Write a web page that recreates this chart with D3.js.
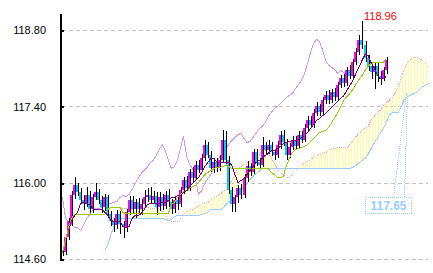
<!DOCTYPE html>
<html><head><meta charset="utf-8">
<script src="https://cdn.jsdelivr.net/npm/d3@7"></script>
<style>body{margin:0;background:#fff}svg{display:block}</style>
</head><body><svg id="c" width="433" height="273"></svg>
<script>
// ---- data ----
const yTicks = [114.60, 116.00, 117.40, 118.80];
const shift = 13;              // forward / backward displacement (in bars)
const highLabel = "118.96";
const calloutLabel = "117.65";
const calloutValue = 117.65;

const open  = [114.77,114.73,115.00,115.25,115.78,115.96,115.83,115.69,115.60,115.78,115.51,115.74,115.82,115.69,115.55,115.73,115.42,115.29,115.22,115.42,115.24,115.18,115.47,115.69,115.51,115.64,115.51,115.60,115.73,115.78,115.69,115.76,115.55,115.73,115.58,115.78,115.64,115.51,115.69,115.60,115.87,116.05,115.90,116.20,116.09,116.33,116.24,116.46,116.69,116.51,116.27,116.38,116.27,116.42,116.79,116.42,115.87,115.60,115.73,115.91,115.78,116.09,116.31,116.20,116.57,116.38,116.33,116.69,116.60,116.69,116.57,116.51,116.69,116.88,116.75,116.51,116.66,116.79,116.68,116.88,116.79,117.01,117.15,117.06,117.28,117.41,117.30,117.52,117.61,117.52,117.66,117.57,117.79,117.92,117.83,118.07,117.96,118.21,118.40,118.62,118.53,118.29,118.14,118.03,118.14,117.96,117.92,118.07];
const high  = [114.80,115.05,115.35,115.85,116.10,116.00,115.90,115.78,115.92,115.85,115.80,116.00,115.88,115.75,115.80,115.78,115.48,115.35,115.50,115.48,115.30,115.52,115.75,115.75,115.70,115.72,115.70,115.87,115.90,115.92,115.85,115.82,115.82,115.80,115.85,115.88,115.70,115.75,115.75,115.92,116.10,116.12,116.25,116.28,116.40,116.42,116.52,116.79,116.75,116.58,116.45,116.45,116.50,116.97,116.95,116.48,115.92,115.78,115.95,115.98,116.15,116.40,116.36,116.62,116.62,116.45,116.83,116.75,116.78,116.75,116.62,116.76,116.95,116.97,116.80,116.72,116.86,116.85,116.95,116.95,117.08,117.22,117.22,117.35,117.48,117.45,117.58,117.68,117.70,117.72,117.74,117.85,117.98,118.00,118.13,118.15,118.27,118.47,118.70,118.96,118.60,118.35,118.22,118.20,118.22,118.05,118.13,118.30];
const low   = [114.66,114.68,114.95,115.20,115.70,115.75,115.62,115.50,115.55,115.45,115.45,115.68,115.60,115.45,115.48,115.35,115.20,115.10,115.15,115.05,114.98,115.10,115.40,115.45,115.35,115.42,115.40,115.55,115.65,115.60,115.60,115.40,115.48,115.50,115.52,115.55,115.42,115.45,115.50,115.55,115.80,115.85,115.85,116.02,116.05,116.18,116.20,116.40,116.45,116.20,116.18,116.20,116.22,116.38,116.35,115.80,115.47,115.46,115.62,115.70,115.72,116.02,116.12,116.15,116.30,116.25,116.28,116.50,116.52,116.48,116.42,116.45,116.62,116.68,116.42,116.45,116.60,116.60,116.62,116.72,116.75,116.95,117.00,117.00,117.22,117.22,117.25,117.45,117.45,117.46,117.50,117.52,117.74,117.76,117.78,117.90,117.92,118.15,118.35,118.45,118.22,118.05,117.90,117.72,117.85,117.80,117.86,118.00];
const close = [114.73,115.00,115.29,115.78,115.96,115.83,115.69,115.60,115.78,115.51,115.74,115.82,115.69,115.55,115.73,115.42,115.29,115.22,115.42,115.24,115.18,115.47,115.69,115.51,115.64,115.51,115.60,115.73,115.78,115.69,115.76,115.55,115.73,115.58,115.78,115.64,115.51,115.69,115.60,115.87,116.05,115.90,116.20,116.09,116.33,116.24,116.46,116.69,116.51,116.27,116.38,116.27,116.42,116.79,116.42,115.87,115.60,115.73,115.91,115.78,116.09,116.31,116.20,116.57,116.38,116.33,116.69,116.60,116.69,116.57,116.51,116.69,116.88,116.75,116.51,116.66,116.79,116.68,116.88,116.79,117.01,117.15,117.06,117.28,117.41,117.30,117.52,117.61,117.52,117.66,117.57,117.79,117.92,117.83,118.07,117.96,118.21,118.40,118.62,118.53,118.29,118.14,118.03,118.14,117.96,117.92,118.07,118.25];

// conversion line (starts at bar 2)
const tenkanStart = 2;
const tenkan = [115.14,115.32,115.40,115.47,115.63,115.65,115.63,115.60,115.54,115.51,115.51,115.51,115.47,115.41,115.32,115.29,115.29,115.29,115.21,115.18,115.21,115.36,115.40,115.41,115.45,115.51,115.60,115.62,115.63,115.63,115.63,115.65,115.65,115.69,115.73,115.74,115.78,115.78,115.82,115.87,115.93,116.00,116.05,116.11,116.20,116.31,116.38,116.46,116.46,116.40,116.38,116.38,116.38,116.38,116.33,116.15,116.02,116.05,116.09,116.15,116.24,116.31,116.37,116.42,116.46,116.51,116.55,116.59,116.60,116.64,116.68,116.73,116.75,116.77,116.79,116.79,116.81,116.84,116.88,116.93,117.01,117.08,117.15,117.19,117.24,117.28,117.34,117.39,117.45,117.50,117.56,117.61,117.70,117.79,117.88,118.01,118.12,118.25,118.36,118.34,118.21,118.12,117.99,117.92,117.92,117.96];

// base line (starts at bar 0)
const kijun = [114.71,114.96,115.18,115.36,115.43,115.43,115.43,115.43,115.43,115.43,115.43,115.43,115.43,115.43,115.43,115.51,115.56,115.56,115.56,115.56,115.47,115.45,115.45,115.45,115.45,115.45,115.45,115.45,115.45,115.45,115.45,115.45,115.45,115.45,115.45,115.45,115.60,115.65,115.73,115.80,115.84,115.87,115.91,115.94,115.96,116.02,116.09,116.15,116.20,116.24,116.27,116.29,116.29,116.31,116.33,116.31,116.27,116.26,116.26,116.26,116.26,116.26,116.26,116.26,116.26,116.26,116.26,116.26,116.26,116.20,116.15,116.11,116.11,116.13,116.33,116.46,116.57,116.62,116.64,116.66,116.68,116.71,116.77,116.82,116.88,116.93,116.95,116.97,117.02,117.12,117.21,117.30,117.41,117.52,117.59,117.65,117.72,117.81,117.90,117.98,118.07,118.14,118.20,118.21,118.21,118.21,118.21,118.29];

// lagging span (drawn from bar 0 to bar 94)
const chikou = [115.74,115.36,115.30,115.25,115.19,115.18,115.14,115.25,115.36,115.43,115.51,115.54,115.54,115.56,115.60,115.63,115.63,115.65,115.67,115.73,115.78,115.76,115.80,115.89,116.00,116.09,116.18,116.24,116.29,116.37,116.42,116.51,116.62,116.70,116.60,116.42,116.27,116.31,116.42,116.64,116.86,116.51,116.35,116.27,116.05,115.80,115.87,116.00,116.09,116.16,116.27,116.38,116.48,116.57,116.64,116.71,116.79,116.84,116.90,116.91,116.82,116.75,116.77,116.84,116.91,117.01,117.04,117.12,117.23,117.30,117.37,117.41,117.46,117.52,117.57,117.61,117.65,117.74,117.81,117.88,118.01,118.20,118.40,118.56,118.64,118.60,118.43,118.25,118.16,118.12,118.09,118.01,118.07,118.03,117.99];

// leading span A (starts at bar 18) and B (starts at bar 14)
const spanAStart = 18;
const spanA = [115.47,115.51,115.54,115.54,115.52,115.51,115.47,115.47,115.51,115.56,115.56,115.54,115.54,115.56,115.54,115.49,115.41,115.32,115.29,115.29,115.30,115.34,115.43,115.47,115.51,115.52,115.56,115.58,115.62,115.63,115.65,115.69,115.73,115.76,115.80,115.84,115.89,115.94,116.04,116.16,116.26,116.31,116.35,116.38,116.40,116.44,116.48,116.53,116.59,116.60,116.55,116.46,116.37,116.27,116.20,116.15,116.11,116.11,116.15,116.24,116.29,116.33,116.37,116.40,116.42,116.48,116.51,116.53,116.55,116.57,116.60,116.64,116.64,116.66,116.66,116.66,116.66,116.70,116.79,116.86,116.91,116.97,117.01,117.04,117.15,117.23,117.28,117.34,117.41,117.46,117.52,117.57,117.67,117.78,117.92,118.09,118.21,118.27,118.31,118.31,118.29,118.25,118.20,118.14];
const spanBStart = 14;
const spanB = [114.77,114.88,115.05,115.21,115.34,115.36,115.36,115.36,115.36,115.36,115.36,115.36,115.36,115.36,115.36,115.36,115.36,115.36,115.36,115.36,115.34,115.32,115.34,115.38,115.41,115.41,115.41,115.41,115.41,115.41,115.41,115.41,115.43,115.45,115.47,115.51,115.51,115.51,115.51,115.54,115.60,115.65,115.69,115.73,115.78,115.85,115.93,116.00,116.07,116.13,116.18,116.22,116.26,116.26,116.26,116.26,116.26,116.26,116.26,116.26,116.26,116.26,116.26,116.26,116.26,116.26,116.26,116.26,116.26,116.26,116.26,116.26,116.26,116.26,116.26,116.26,116.26,116.26,116.26,116.26,116.26,116.26,116.29,116.33,116.38,116.42,116.46,116.53,116.64,116.73,116.82,116.91,117.01,117.12,117.24,117.30,117.30,117.30,117.41,117.54,117.59,117.61,117.65,117.67,117.72,117.78,117.79,117.83];

// ---- drawing ----
const svg = d3.select('#c');
const lastIndex = open.length - 1 + shift;
const x = d3.scaleLinear().domain([0, lastIndex]).range([62, 425]);
const y = d3.scaleLinear().domain([114.60, 118.80]).range([259, 30]);
const px = v => Math.round(x(v));
const py = v => Math.round(y(v));

const defs = svg.append('defs');
const pat = defs.append('pattern').attr('id','kumo').attr('patternUnits','userSpaceOnUse')
  .attr('x',0).attr('y',0).attr('width',3).attr('height',3);
pat.append('rect').attr('x',0).attr('y',0).attr('width',1).attr('height',3)
  .attr('fill','#ffff88').attr('shape-rendering','crispEdges');

// grid
svg.append('g').selectAll('line').data(yTicks).join('line')
  .attr('x1',62).attr('x2',428)
  .attr('y1',d=>py(d)+0.5).attr('y2',d=>py(d)+0.5)
  .attr('stroke','#c0c0c0').attr('stroke-dasharray','4,3').attr('shape-rendering','crispEdges');

// cloud
const cloud = [];
for (let k = 0; k < spanA.length; k++) {
  const idx = spanAStart + k;
  const b = spanB[idx - spanBStart];
  cloud.push({i: idx, a: spanA[k], b: b});
}
svg.append('path').datum(cloud)
  .attr('d', d3.area().x(d=>x(d.i)).y0(d=>y(d.b)).y1(d=>y(Math.max(d.a,d.b))))
  .attr('fill','url(#kumo)').attr('shape-rendering','crispEdges');

const line = (arr, start) => d3.line().defined(d=>d!=null).x((d,i)=>x(i+start)+0.5).y(d=>py(d)+0.5)(arr);

svg.append('path').attr('d', line(spanB, spanBStart)).attr('fill','none').attr('stroke','#99ccff').attr('shape-rendering','crispEdges');
svg.append('path').attr('d', line(spanA, spanAStart)).attr('fill','none').attr('stroke','#ff99cc').attr('stroke-dasharray','1,1').attr('shape-rendering','crispEdges');
svg.append('path').attr('d', line(chikou, 0)).attr('fill','none').attr('stroke','#cc99ff').attr('shape-rendering','crispEdges');

// candles
const cg = svg.append('g').attr('shape-rendering','crispEdges');
open.forEach((o,i)=>{
  const c = close[i];
  const cx = px(i);
  cg.append('rect').attr('x',cx-1).attr('y',py(Math.max(o,c)))
    .attr('width',2).attr('height',Math.max(1, py(Math.min(o,c))-py(Math.max(o,c))))
    .attr('fill', c>=o ? '#ff00ff' : '#00ccff');
  cg.append('rect').attr('x',cx+1).attr('y',py(high[i])).attr('width',1)
    .attr('height',Math.max(1, py(low[i])-py(high[i]))).attr('fill','#000');
});

svg.append('path').attr('d', line(kijun, 0)).attr('fill','none').attr('stroke','#99cc00').attr('shape-rendering','crispEdges');
svg.append('path').attr('d', line(tenkan, tenkanStart)).attr('fill','none').attr('stroke','#800080').attr('shape-rendering','crispEdges');

// y axis
svg.append('rect').attr('x',60).attr('y',14).attr('width',2).attr('height',246).attr('fill','#000');
svg.append('g').selectAll('rect').data(yTicks).join('rect')
  .attr('x',60).attr('y',d=>py(d)).attr('width',4).attr('height',2).attr('fill','#000');
const ax = d3.axisLeft(y).tickValues(yTicks).tickSize(0).tickPadding(0).tickFormat(d3.format('.2f'));
const axg = svg.append('g').attr('transform','translate(46,0)').call(ax);
axg.select('.domain').remove();
axg.selectAll('text').attr('font-family','Liberation Sans, Arial, sans-serif').attr('font-size','11px').attr('fill','#000').attr('dy','0.35em');

// high label
const hiIdx = high.indexOf(d3.max(high));
svg.append('text').attr('x', px(hiIdx)+3).attr('y', 20)
  .attr('font-family','Liberation Sans, Arial, sans-serif').attr('font-size','11px').attr('fill','#ff0000').text(highLabel);

// callout
const cy = py(calloutValue);
const cxp = 406;
const dotted = {stroke:'#99ccff','stroke-dasharray':'1,1','shape-rendering':'crispEdges'};
const l1 = svg.append('line').attr('x1',393.5).attr('y1',197).attr('x2',cxp+0.5).attr('y2',cy);
const l2 = svg.append('line').attr('x1',404.5).attr('y1',197).attr('x2',cxp+1.5).attr('y2',cy);
[l1,l2].forEach(l=>Object.entries(dotted).forEach(([k,v])=>l.attr(k,v)));
svg.append('rect').attr('x',365.5).attr('y',197.5).attr('width',46).attr('height',16)
  .attr('fill','#fff').attr('stroke','#99ccff').attr('stroke-dasharray','1,1').attr('shape-rendering','crispEdges');
svg.append('text').attr('x',388.5).attr('y',210).attr('text-anchor','middle')
  .attr('font-family','Liberation Sans, Arial, sans-serif').attr('font-size','12px').attr('font-weight','bold')
  .attr('fill','#99ccff').text(calloutLabel);
</script></body></html>
